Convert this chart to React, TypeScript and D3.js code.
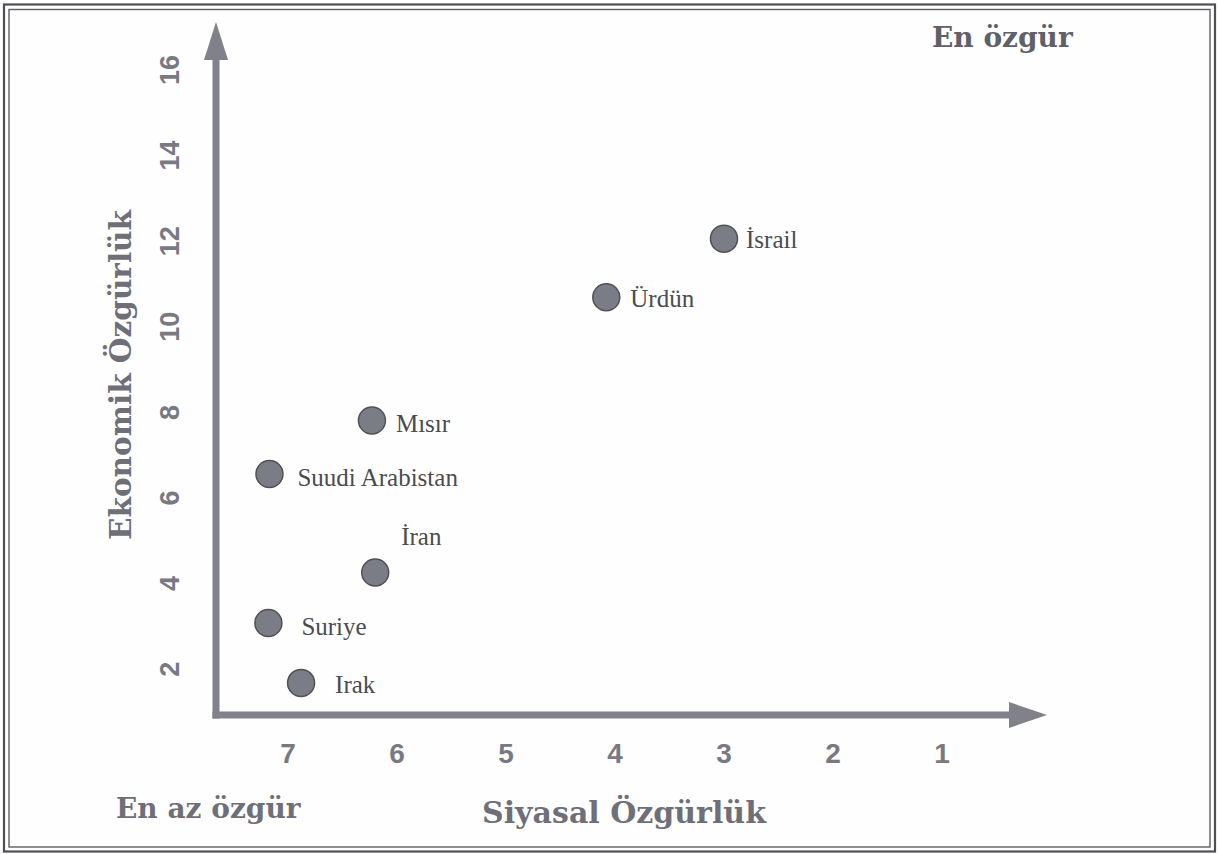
import * as d3 from "d3";
import React from "react";

// values
const countries = ["İsrail", "Ürdün", "Mısır", "Suudi Arabistan", "İran", "Suriye", "Irak"];
const politicalFreedom = [3.0, 4.08, 6.23, 7.17, 6.2, 7.18, 6.88];
const economicFreedom = [12.06, 10.69, 7.81, 6.56, 4.26, 3.08, 1.68];

const xTicks = [7, 6, 5, 4, 3, 2, 1];
const yTicks = [2, 4, 6, 8, 10, 12, 14, 16];

const W = 1219;
const H = 854;

// axis geometry
const axisX = 216;
const axisY = 715;
const axisColor = "#80818b";

const x = d3.scaleLinear().domain([7, 1]).range([288, 942]);
const y = d3.scaleLinear().domain([0.93, 16]).range([axisY, 70]);

// label placement per country (dx, dy from point centre to text start/baseline)
const labelOffsets: Record<string, [number, number]> = {
  "İsrail": [22, 9],
  "Ürdün": [24, 10],
  "Mısır": [24, 11],
  "Suudi Arabistan": [28, 12],
  "İran": [26, -27],
  "Suriye": [33, 12],
  "Irak": [34, 10],
};

const serifBold = "'DejaVu Serif', serif";
const sansBold = "'Liberation Sans', Arial, sans-serif";
const serif = "'Liberation Serif', 'Times New Roman', serif";

const App: React.FC = () => {
  const points = countries.map((name, i) => ({
    name,
    px: x(politicalFreedom[i]),
    py: y(economicFreedom[i]),
  }));

  const yArrowTip = 22;
  const xArrowTip = 1047;

  return (
    <svg
      width={W}
      height={H}
      style={{ position: "absolute", left: 0, top: 0, background: "#fefefe" }}
    >
      {/* double frame */}
      <rect x={4} y={4.5} width={1211} height={847} fill="none" stroke="#4f4f53" strokeWidth={2.2} />
      <rect x={9} y={9.5} width={1201} height={837.5} fill="none" stroke="#5f5f63" strokeWidth={1.4} />

      {/* axes */}
      <line x1={axisX} y1={axisY + 3.5} x2={axisX} y2={yArrowTip + 30} stroke={axisColor} strokeWidth={7} />
      <path
        d={`M${axisX},${yArrowTip} L${axisX + 12},${yArrowTip + 38} L${axisX - 12},${yArrowTip + 38} Z`}
        fill={axisColor}
      />
      <line x1={axisX - 3.5} y1={axisY} x2={xArrowTip - 30} y2={axisY} stroke={axisColor} strokeWidth={7} />
      <path
        d={`M${xArrowTip},${axisY} L${xArrowTip - 38},${axisY - 13} L${xArrowTip - 38},${axisY + 13} Z`}
        fill={axisColor}
      />

      {/* x ticks */}
      {xTicks.map((t) => (
        <text
          key={`x${t}`}
          x={x(t)}
          y={763}
          textAnchor="middle"
          fontFamily={sansBold}
          fontWeight="bold"
          fontSize={28}
          fill="#787983"
        >
          {t}
        </text>
      ))}

      {/* y ticks */}
      {yTicks.map((t) => (
        <text
          key={`y${t}`}
          transform={`translate(179,${y(t)}) rotate(-90)`}
          textAnchor="middle"
          fontFamily={sansBold}
          fontWeight="bold"
          fontSize={27}
          fill="#787983"
        >
          {t}
        </text>
      ))}

      {/* axis titles */}
      <text
        transform={`translate(131,375) rotate(-90)`}
        textAnchor="middle"
        fontFamily={serifBold}
        fontWeight="bold"
        fontSize={29.5}
        fill="#6e6f78"
      >
        Ekonomik Özgürlük
      </text>
      <text
        x={624}
        y={823}
        textAnchor="middle"
        fontFamily={serifBold}
        fontWeight="bold"
        fontSize={30}
        fill="#6e6f78"
      >
        Siyasal Özgürlük
      </text>
      <text x={116} y={818} fontFamily={serifBold} fontWeight="bold" fontSize={28} fill="#6e6f78">
        En az özgür
      </text>
      <text x={932} y={47} fontFamily={serifBold} fontWeight="bold" fontSize={28} fill="#5f6068">
        En özgür
      </text>

      {/* points */}
      {points.map((p) => (
        <g key={p.name}>
          <circle cx={p.px} cy={p.py} r={13.5} fill="#7b7d86" stroke="#505156" strokeWidth={1.5} />
          <text
            x={p.px + labelOffsets[p.name][0]}
            y={p.py + labelOffsets[p.name][1]}
            fontFamily={serif}
            fontSize={25}
            fill="#4b4b50"
          >
            {p.name}
          </text>
        </g>
      ))}
    </svg>
  );
};

export default App;
